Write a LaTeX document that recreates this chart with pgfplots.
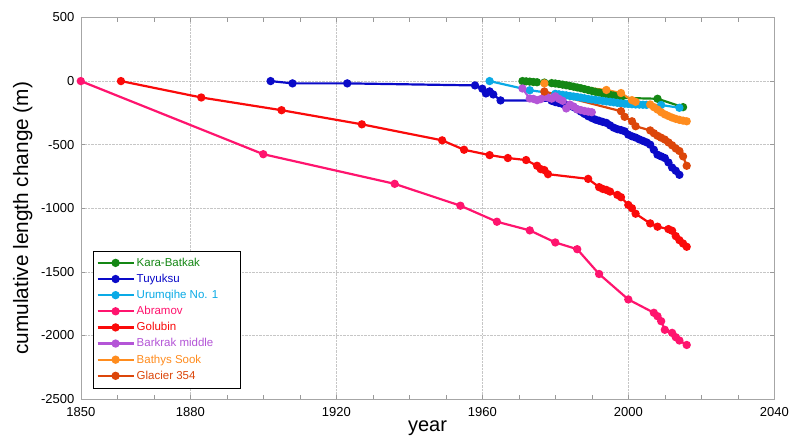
\documentclass[border=0pt]{standalone}
\usepackage{pgfplots}
\pgfplotsset{compat=1.18}
\usepackage{fontspec}
\setmainfont{Liberation Sans}
\usetikzlibrary{calc}

\definecolor{kbcol}{RGB}{20,135,20}
\definecolor{tucol}{RGB}{10,10,200}
\definecolor{urcol}{RGB}{10,170,230}
\definecolor{abcol}{RGB}{255,20,110}
\definecolor{gocol}{RGB}{250,10,10}
\definecolor{bkcol}{RGB}{180,85,215}
\definecolor{bscol}{RGB}{255,140,30}
\definecolor{glcol}{RGB}{220,70,10}

\begin{document}
\begin{tikzpicture}
  \begin{axis}[
      name=ax,
      scale only axis,
      width=693.5pt, height=381.5pt,
      xmin=1850, xmax=2040,
      ymin=-2500, ymax=500,
      xtick={1850,1880,1920,1960,2000,2040},
      minor xtick={1860,1870,1890,1900,1910,1930,1940,1950,1970,1980,1990,2010,2020,2030},
      ytick={-2500,-2000,...,500},
      /pgf/number format/assume math mode=true,
      xticklabel style={/pgf/number format/1000 sep={}, yshift=-4.5pt},
      yticklabel style={/pgf/number format/1000 sep={}, xshift=-3pt},
      ticklabel style={font=\fontsize{13}{15}\selectfont},
      tick align=inside,
      tick style={gray!80, thin},
      major tick length=4pt, minor tick length=4pt,
      axis line style={gray!70, thin},
      grid=major,
      major grid style={gray!45, densely dotted, thin},
      xlabel={year},
      ylabel={cumulative length change (m)},
      every axis x label/.style={at={(axis description cs:0.5,0)}, anchor=center, yshift=-29pt, font=\fontsize{20}{24}\selectfont},
      every axis y label/.style={at={(axis description cs:0,0.5)}, rotate=90, anchor=center, yshift=58pt, xshift=-10pt, font=\fontsize{20.8}{24}\selectfont},
      every axis plot/.append style={line width=2.2pt, mark=*, mark size=3pt},
      legend cell align={left},
      legend style={at={(0.0173,0.029)}, anchor=south west, draw=black, thin,
        font=\fontsize{11.5}{13}\selectfont, row sep=2.3pt, inner xsep=3.5pt, inner ysep=5pt},
      legend image code/.code={
        \draw[mark repeat=2,mark phase=2,#1] plot coordinates {(0pt,0pt) (18pt,0pt) (36pt,0pt)};
      },
    ]

    % Kara-Batkak
    \addplot[kbcol] coordinates {
      (1971,0) (1972,-2) (1973,-4) (1974,-7) (1975,-9) (1977,-12) (1979,-16)
      (1980,-19) (1981,-23) (1982,-28) (1983,-33) (1984,-38) (1985,-44)
      (1986,-50) (1987,-56) (1988,-63) (1989,-70) (1990,-77) (1991,-84)
      (1992,-90) (1993,-96) (1994,-102) (1995,-108) (1996,-114) (1997,-121)
      (1998,-132) (2008,-139) (2015,-205)
    };

    % Tuyuksu
    \addplot[tucol] coordinates {
      (1902,0) (1908,-18) (1923,-18) (1958,-34) (1960,-60) (1961,-97)
      (1962,-81) (1963,-105) (1965,-152) (1979,-155) (1980,-165) (1981,-172)
      (1982,-180) (1983,-188) (1984,-196) (1985,-205) (1986,-222) (1987,-240)
      (1988,-258) (1989,-276) (1990,-290) (1991,-303) (1992,-312) (1993,-321)
      (1994,-329) (1995,-348) (1996,-366) (1997,-378) (1998,-385) (1999,-395)
      (2000,-421) (2001,-434) (2002,-444) (2003,-458) (2004,-470) (2005,-482)
      (2006,-500) (2007,-540) (2008,-579) (2009,-592) (2010,-605) (2011,-640)
      (2012,-680) (2013,-705) (2014,-737)
    };

    % Urumqihe No. 1
    \addplot[urcol] coordinates {
      (1962,0) (1973,-72) (1980,-100) (1981,-104) (1982,-108) (1983,-112)
      (1984,-117) (1985,-121) (1986,-125) (1987,-130) (1988,-135) (1989,-140)
      (1990,-144) (1991,-148) (1992,-152) (1993,-156) (1994,-160) (1995,-163)
      (1996,-167) (1997,-171) (1998,-175) (1999,-178) (2000,-180) (2001,-182)
      (2002,-184) (2003,-185) (2004,-186) (2005,-187) (2009,-188) (2014,-210)
    };

    % Abramov
    \addplot[abcol] coordinates {
      (1850,0) (1900,-575) (1936,-808) (1954,-980) (1964,-1106) (1973,-1174)
      (1980,-1269) (1986,-1322) (1992,-1517) (2000,-1717) (2007,-1822)
      (2008,-1849) (2009,-1888) (2010,-1956) (2012,-1980) (2013,-2014)
      (2014,-2040) (2016,-2075)
    };

    % Golubin
    \addplot[gocol] coordinates {
      (1861,0) (1883,-129) (1905,-229) (1927,-340) (1949,-466) (1955,-540)
      (1962,-582) (1967,-605) (1972,-621) (1975,-666) (1976,-692) (1977,-700)
      (1978,-732) (1989,-769) (1992,-834) (1993,-848) (1994,-856) (1995,-869)
      (1997,-895) (1998,-913) (2000,-974) (2001,-1000) (2002,-1043)
      (2006,-1119) (2008,-1145) (2011,-1164) (2012,-1177) (2013,-1219)
      (2014,-1251) (2015,-1277) (2016,-1303)
    };

    % Barkrak middle
    \addplot[bkcol] coordinates {
      (1971,-58) (1973,-137) (1974,-140) (1975,-150) (1976,-142) (1977,-125)
      (1978,-130) (1979,-138) (1980,-120) (1981,-140) (1982,-155) (1983,-215)
      (1984,-185) (1985,-200) (1986,-222) (1987,-228) (1988,-235) (1989,-240)
      (1990,-245)
    };

    % Bathys Sook
    \addplot[bscol] coordinates {
      (1977,-18) (1994,-70) (1998,-94) (2001,-150) (2002,-163) (2006,-184)
      (2007,-205) (2008,-224) (2009,-245) (2010,-262) (2011,-275) (2012,-287)
      (2013,-297) (2014,-305) (2015,-311) (2016,-316)
    };

    % Glacier 354
    \addplot[glcol] coordinates {
      (1977,-82) (1998,-237) (1999,-281) (2001,-316) (2002,-355) (2006,-388)
      (2007,-410) (2008,-430) (2009,-445) (2010,-460) (2011,-482) (2012,-505)
      (2013,-530) (2014,-550) (2015,-592) (2016,-666)
    };

    \legend{\textcolor{kbcol}{Kara-Batkak},\textcolor{tucol}{Tuyuksu},
      \textcolor{urcol}{Urumqihe No. 1}\hspace*{16pt},\textcolor{abcol}{Abramov},
      \textcolor{gocol}{Golubin},\textcolor{bkcol}{Barkrak middle},
      \textcolor{bscol}{Bathys Sook},\textcolor{glcol}{Glacier 354}}
  \end{axis}
  \pgfresetboundingbox
  \path[use as bounding box] ($(ax.south west)+(-80.8pt,-40pt)$) rectangle ++(789pt,439pt);
\end{tikzpicture}
\end{document}
